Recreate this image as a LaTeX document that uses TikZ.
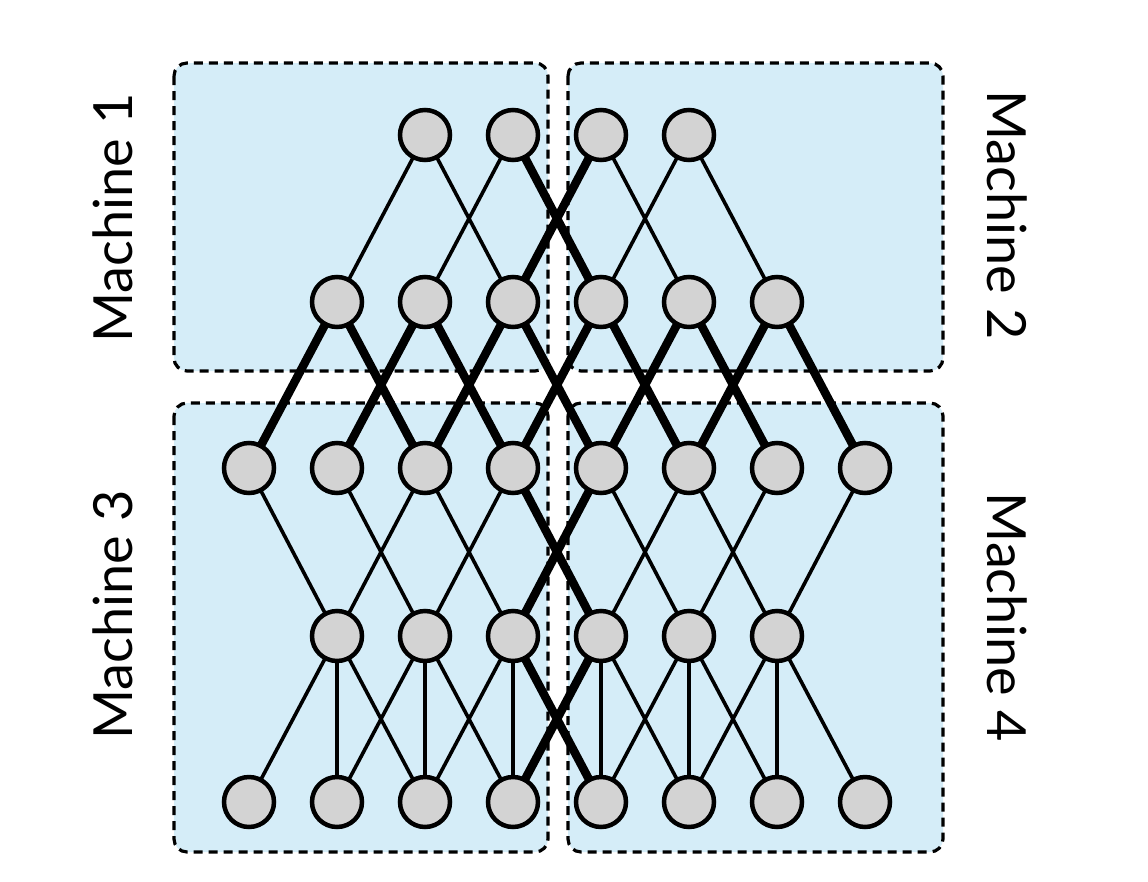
\documentclass[tikz,border=0pt]{standalone}
\usepackage{fontspec}
\setmainfont{Lato}
\pgfdeclarelayer{bg}
\pgfdeclarelayer{edges}
\pgfsetlayers{bg,edges,main}
\definecolor{boxblue}{RGB}{213,237,248}
\definecolor{nodegray}{RGB}{211,211,211}
\begin{document}
\begin{tikzpicture}[x=1pt,y=-1pt,
  nd/.style={circle,draw=black,line width=4.5pt,fill=nodegray,minimum size=50pt,inner sep=0pt},
  ln/.style={line width=3.6pt},
  thk/.style={line width=8.5pt},
  machbox/.style={draw=black,dash pattern=on 9pt off 6pt,line width=3.2pt,fill=boxblue,rounded corners=13pt},
  lbl/.style={font=\fontsize{54}{60}\selectfont,inner sep=0pt}]
\useasboundingbox (0,0) rectangle (1148,881);
\begin{pgfonlayer}{bg}
\fill[white] (0,0) rectangle (1148,881);
\path[machbox] (174,63) rectangle (548,371);
\path[machbox] (568,63) rectangle (943,371);
\path[machbox] (174,403) rectangle (548,852);
\path[machbox] (568,403) rectangle (943,852);
\end{pgfonlayer}
% labels
\node[lbl,rotate=90] (m1) at (113,218) {Machine 1};
\node[lbl,rotate=90] (m3) at (113,615) {Machine 3};
\node[lbl,rotate=-90] (m2) at (1007,215) {Machine 2};
\node[lbl,rotate=-90] (m4) at (1007,617) {Machine 4};
% nodes
\foreach \c in {2,...,5} \node[nd] (r1c\c) at ({249+88*\c},135) {};
\foreach \c in {1,...,6} \node[nd] (r2c\c) at ({249+88*\c},302) {};
\foreach \c in {0,...,7} \node[nd] (r3c\c) at ({249+88*\c},468) {};
\foreach \c in {1,...,6} \node[nd] (r4c\c) at ({249+88*\c},636) {};
\foreach \c in {0,...,7} \node[nd] (r5c\c) at ({249+88*\c},802) {};
\begin{pgfonlayer}{edges}
% row 1 -> row 2
\draw[ln] (r1c2.center) -- (r2c1.center);
\draw[ln] (r1c2.center) -- (r2c3.center);
\draw[ln] (r1c3.center) -- (r2c2.center);
\draw[ln] (r1c4.center) -- (r2c5.center);
\draw[ln] (r1c5.center) -- (r2c4.center);
\draw[ln] (r1c5.center) -- (r2c6.center);
\draw[thk] (r1c3.center) -- (r2c4.center);
\draw[thk] (r1c4.center) -- (r2c3.center);
% row 2 -> row 3 (all thick)
\foreach \c in {1,...,6}{
  \pgfmathtruncatemacro\a{\c-1}
  \pgfmathtruncatemacro\b{\c+1}
  \draw[thk] (r2c\c.center) -- (r3c\a.center);
  \draw[thk] (r2c\c.center) -- (r3c\b.center);
}
% row 3 -> row 4
\draw[ln] (r3c0.center) -- (r4c1.center);
\draw[ln] (r3c1.center) -- (r4c2.center);
\draw[ln] (r3c2.center) -- (r4c1.center);
\draw[ln] (r3c2.center) -- (r4c3.center);
\draw[ln] (r3c3.center) -- (r4c2.center);
\draw[ln] (r3c4.center) -- (r4c5.center);
\draw[ln] (r3c5.center) -- (r4c4.center);
\draw[ln] (r3c5.center) -- (r4c6.center);
\draw[ln] (r3c6.center) -- (r4c5.center);
\draw[ln] (r3c7.center) -- (r4c6.center);
\draw[thk] (r3c3.center) -- (r4c4.center);
\draw[thk] (r3c4.center) -- (r4c3.center);
% row 4 -> row 5
\foreach \c in {1,...,6}{
  \pgfmathtruncatemacro\a{\c-1}
  \pgfmathtruncatemacro\b{\c+1}
  \draw[ln] (r4c\c.center) -- (r5c\c.center);
  \ifnum\c=3\else\draw[ln] (r4c\c.center) -- (r5c\b.center);\fi
  \ifnum\c=4\else\draw[ln] (r4c\c.center) -- (r5c\a.center);\fi
}
\draw[thk] (r4c3.center) -- (r5c4.center);
\draw[thk] (r4c4.center) -- (r5c3.center);
\end{pgfonlayer}
\end{tikzpicture}
\end{document}
